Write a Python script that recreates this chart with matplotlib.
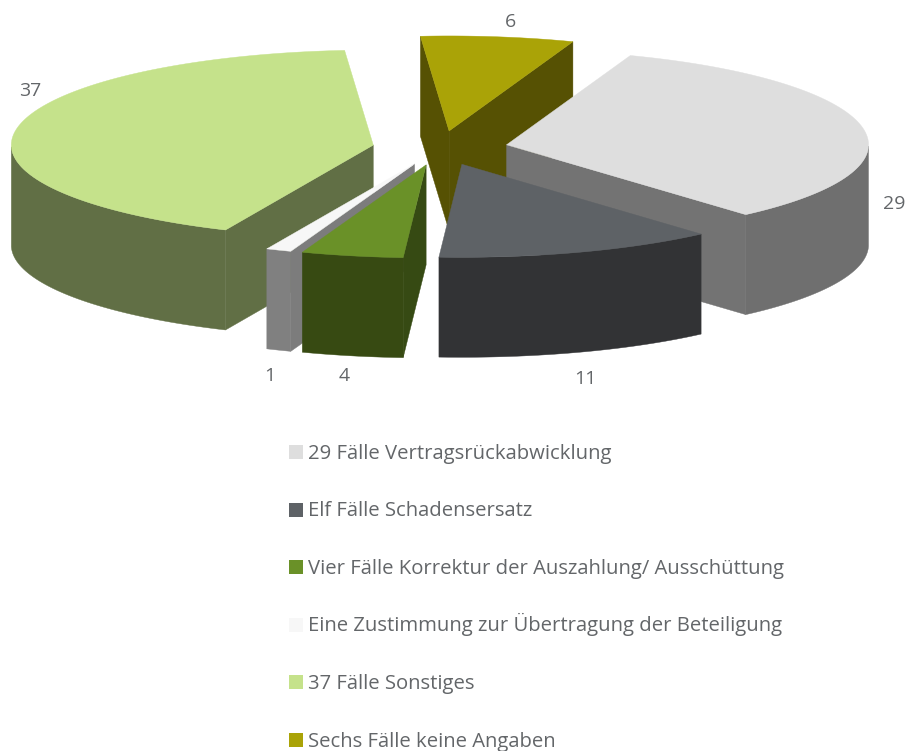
import numpy as np
import matplotlib
matplotlib.use("Agg")
import matplotlib.pyplot as plt
from matplotlib.patches import Polygon, Rectangle

plt.rcParams['font.family'] = ['Open Sans', 'DejaVu Sans']

# =====================================================================
# DATA
# =====================================================================
values = [29, 11, 4, 1, 37, 6]
legend_labels = [
    "29 Fälle Vertragsrückabwicklung",
    "Elf Fälle Schadensersatz",
    "Vier Fälle Korrektur der Auszahlung/ Ausschüttung",
    "Eine Zustimmung zur Übertragung der Beteiligung",
    "37 Fälle Sonstiges",
    "Sechs Fälle keine Angaben",
]
top_colors = ['#dedede', '#5e6266', '#6a9128', '#f7f7f7', '#c5e28b', '#aaa307']
side_colors = ['#6f6f6f', '#323335', '#374a12', '#808080', '#616f45', '#565103']
face_colors = ['#737373', '#323335', '#364a13', '#7c7c7c', '#616f45', '#565103']

# pie geometry in pixels
start_angle = 20.0
cx, cy = 440, 148
rx = 362
ry_back, ry_front = 95, 93  # slight perspective
ry_explode = 92
explode = 0.187
depth = 100

# back to front
draw_order = [5, 0, 4, 3, 2, 1]
label_xy = [(894, 204), (585, 379), (344, 376), (270, 376), (30, 91), (510, 22)]
text_color = '#636669'

# legend layout in pixels
legend_x, legend_y = 289, 445
legend_box = 14
legend_pitch = 57.5

fig = plt.figure(figsize=(9.06, 7.51), dpi=100)
ax = fig.add_axes([0, 0, 1, 1])
ax.set_xlim(0, 906)
ax.set_ylim(751, 0)
ax.axis('off')


def project(t, ox, oy, z=0):
    ry = np.where(np.cos(t) > 0, ry_back, ry_front)
    return np.column_stack([ox + rx * np.sin(t), oy - ry * np.cos(t) + z])


def add_poly(pts, color, z):
    ax.add_patch(Polygon(pts, closed=True, facecolor=color, edgecolor=color, linewidth=0.3, zorder=z))


# =====================================================================
# PIE
# =====================================================================
edges = start_angle + np.cumsum([0] + values) * 360.0 / sum(values)
for order, i in enumerate(draw_order):
    t0, t1 = np.radians(edges[i]), np.radians(edges[i + 1])
    mid = (t0 + t1) / 2
    ox = cx + explode * rx * np.sin(mid)
    oy = cy - explode * ry_explode * np.cos(mid)
    apex = np.array([[ox, oy]])
    arc = np.linspace(t0, t1, 120)
    base = order * 10

    # radial cut faces that look at the viewer
    for t, show in ((t0, np.sin(t0) < 0), (t1, np.sin(t1) > 0)):
        if show:
            rim = project(np.array([t]), ox, oy)
            pts = np.vstack([apex, rim, rim + [0, depth], apex + [0, depth]])
            add_poly(pts, face_colors[i], base + 1)

    # outer wall, front half only
    front = arc[np.cos(arc) < 0]
    if len(front) > 1:
        upper = project(front, ox, oy)
        lower = project(front[::-1], ox, oy, depth)
        add_poly(np.vstack([upper, lower]), side_colors[i], base + 2)

    add_poly(np.vstack([apex, project(arc, ox, oy)]), top_colors[i], base + 3)

for v, (x, y) in zip(values, label_xy):
    ax.text(x, y, str(v), color=text_color, fontsize=14, ha='center', va='center', zorder=200)

# =====================================================================
# LEGEND
# =====================================================================
# drawn by hand, ax.legend makes the row with the Ü taller than the others
for i, (label, color) in enumerate(zip(legend_labels, top_colors)):
    y = legend_y + i * legend_pitch
    ax.add_patch(Rectangle((legend_x, y), legend_box, legend_box, facecolor=color, edgecolor='none'))
    ax.text(legend_x + legend_box + 5, y + legend_box, label, color=text_color, fontsize=14.6,
            ha='left', va='baseline')

plt.savefig("out.png", dpi=100)
plt.close()
